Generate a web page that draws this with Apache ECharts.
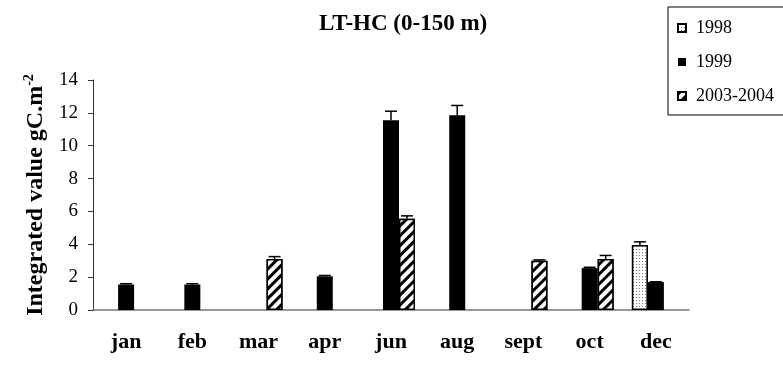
<!DOCTYPE html>
<html>
<head>
<meta charset="utf-8">
<script src="https://cdn.jsdelivr.net/npm/echarts@6/dist/echarts.min.js"></script>
<style>
  html, body { margin: 0; padding: 0; background: #fff; }
  #chart { width: 783px; height: 369px; }
</style>
</head>
<body>
<div id="chart"></div>
<script>
const months = ['jan', 'feb', 'mar', 'apr', 'jun', 'aug', 'sept', 'oct', 'dec']
const yTicks = [0, 2, 4, 6, 8, 10, 12, 14]

// values per season, null = no sample
const v1998 = [null, null, null, null, null, null, null, null, 3.95]
const v1999 = [1.55, 1.55, null, 2.05, 11.55, 11.85, null, 2.55, 1.7]
const v2003 = [null, null, 3.1, null, 5.55, null, 3.0, 3.1, null]

// upper error (standard deviation)
const e1998 = [null, null, null, null, null, null, null, null, 0.2]
const e1999 = [0.05, 0.05, null, 0.05, 0.55, 0.6, null, 0.05, 0.02]
const e2003 = [null, null, 0.15, null, 0.18, null, 0.05, 0.22, null]

const seriesNames = ['1998', '1999', '2003-2004']
const values = [v1998, v1999, v2003]
const errors = [e1998, e1999, e2003]

const font = '"Liberation Serif", "Times New Roman", serif'
const barW = 16

const stripes = {
  symbol: 'rect', symbolSize: 1,
  dashArrayX: [1, 0], dashArrayY: [2.2, 3.5],
  rotation: -Math.PI / 4,
  color: '#000', backgroundColor: '#fff'
}
const dots = {
  symbol: 'rect', symbolSize: 1,
  dashArrayX: [1, 2], dashArrayY: [1, 2],
  color: '#777', backgroundColor: '#fff'
}

const barStyles = [
  { color: '#fff', borderColor: '#000', borderWidth: 1.5, decal: dots },
  { color: '#000', borderColor: '#000', borderWidth: 0 },
  { color: '#fff', borderColor: '#000', borderWidth: 1.5, decal: stripes }
]

const series = []
seriesNames.forEach((name, s) => {
  series.push({
    name,
    type: 'bar',
    barWidth: barW,
    barGap: 0,
    itemStyle: barStyles[s],
    data: values[s]
  })
})

// error bars (upper only) as custom series
seriesNames.forEach((name, s) => {
  const errData = []
  values[s].forEach((v, i) => {
    if (v != null && errors[s][i] != null) errData.push([i, v, errors[s][i]])
  })
  series.push({
    type: 'custom',
    name: name + ' err',
    silent: true,
    z: 5,
    renderItem: (params, api) => {
      const base = api.coord([api.value(0), api.value(1)])
      const top = api.coord([api.value(0), api.value(1) + api.value(2)])
      const x = base[0] + (s - 1) * barW
      const style = { stroke: '#000', lineWidth: 1.5 }
      return {
        type: 'group',
        children: [
          { type: 'line', shape: { x1: x, y1: base[1], x2: x, y2: top[1] }, style },
          { type: 'line', shape: { x1: x - 6, y1: top[1], x2: x + 6, y2: top[1] }, style }
        ]
      }
    },
    data: errData
  })
})

const chart = echarts.init(document.getElementById('chart'))
chart.setOption({
  animation: false,
  backgroundColor: '#fff',
  title: {
    text: 'LT-HC (0-150 m)',
    left: 314,
    top: 8,
    textStyle: { fontFamily: font, fontSize: 23, fontWeight: 'bold', color: '#000' }
  },
  legend: {
    data: seriesNames,
    orient: 'vertical',
    left: 668,
    top: 7,
    padding: [12, 20, 10, 9],
    itemGap: 16,
    itemWidth: 8,
    itemHeight: 8,
    icon: 'rect',
    borderColor: '#000',
    borderWidth: 1,
    textStyle: { fontFamily: font, fontSize: 18, color: '#000', padding: [0, 0, 0, 5] }
  },
  grid: { left: 93, right: 94, top: 80, bottom: 59 },
  xAxis: {
    type: 'category',
    data: months,
    axisLine: { lineStyle: { color: '#777', width: 1.5 } },
    axisTick: { length: 6, lineStyle: { color: '#333' } },
    axisLabel: { fontFamily: font, fontSize: 22, fontWeight: 'bold', color: '#000', margin: 21 }
  },
  yAxis: {
    type: 'value',
    min: 0,
    max: yTicks[yTicks.length - 1],
    interval: 2,
    name: '{a|Integrated value gC.m}{b|-2}',
    nameLocation: 'middle',
    nameRotate: 90,
    nameGap: 42,
    nameTextStyle: {
      rich: {
        a: { fontFamily: font, fontSize: 24, fontWeight: 'bold', color: '#000', lineHeight: 28 },
        b: { fontFamily: font, fontSize: 14, fontWeight: 'bold', color: '#000', verticalAlign: 'top', lineHeight: 28 }
      }
    },
    axisLine: { show: true, lineStyle: { color: '#333', width: 1 } },
    axisTick: { show: true, length: 5, lineStyle: { color: '#333' } },
    splitLine: { show: false },
    axisLabel: { fontFamily: font, fontSize: 19, color: '#000', margin: 15 }
  },
  series
})
</script>
</body>
</html>
